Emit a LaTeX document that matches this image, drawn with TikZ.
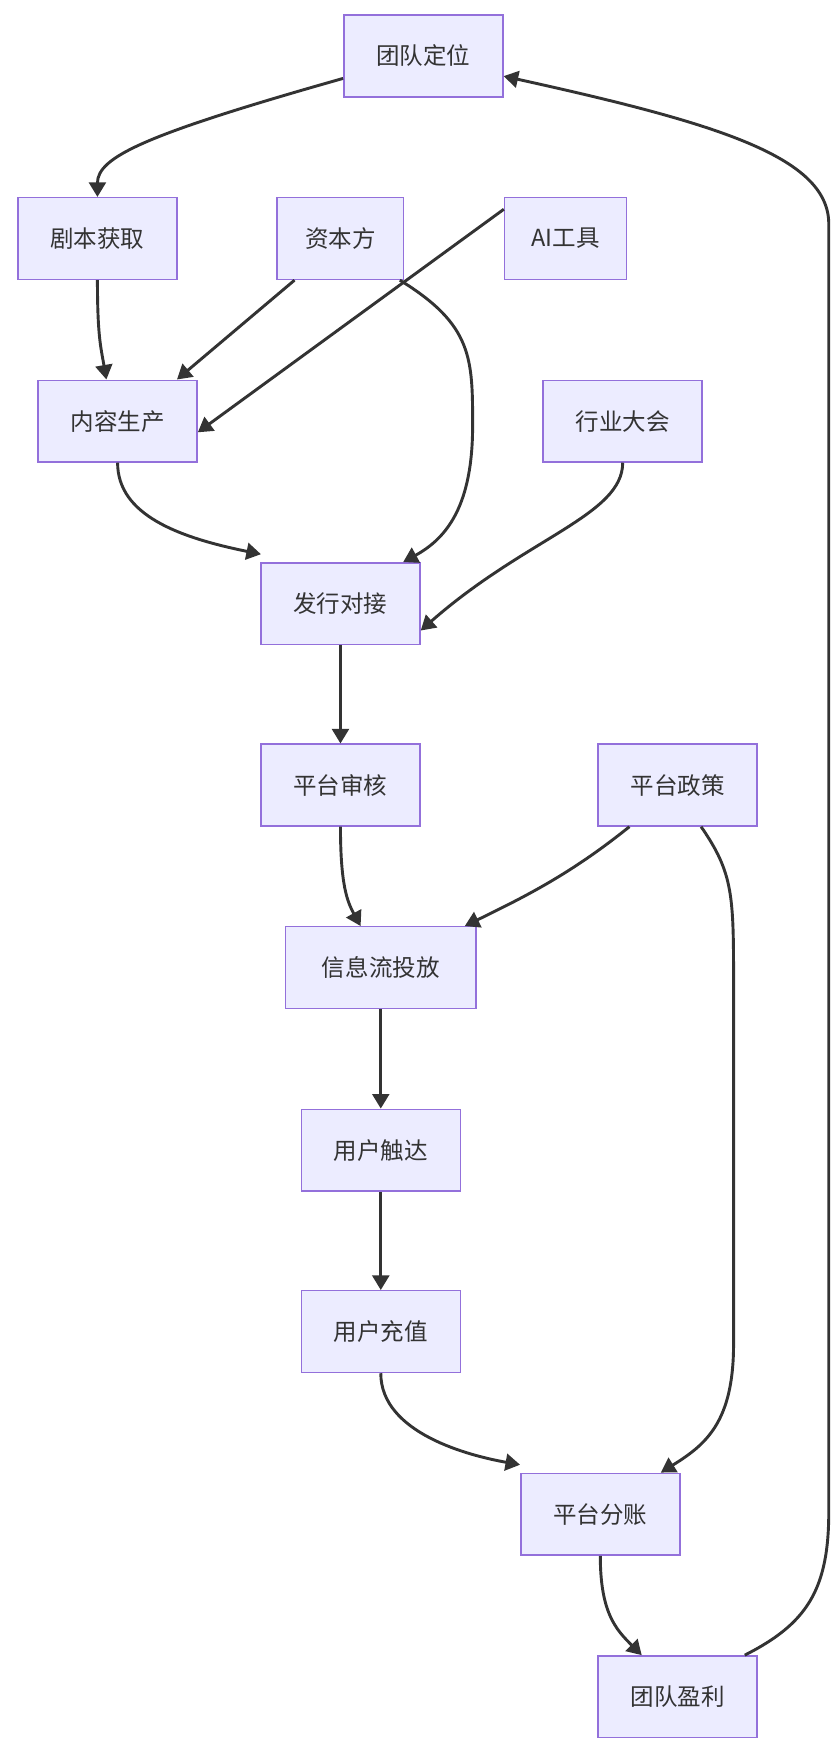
\documentclass[tikz,border=0pt]{standalone}
\usepackage{fontspec}
\setmainfont{Noto Sans CJK SC}
\usetikzlibrary{arrows.meta}
\definecolor{nf}{HTML}{ECECFF}
\definecolor{ns}{HTML}{9370DB}
\definecolor{ec}{HTML}{333333}
\begin{document}
\begin{tikzpicture}[x=1pt,y=-1pt,
 box/.style={draw=ns,fill=nf,line width=1.3pt,minimum height=73pt,inner xsep=14pt,font=\fontsize{21}{24}\selectfont,text=ec},
 e/.style={draw=ec,line width=2.6pt,-{Triangle[length=13pt,width=15pt]}}]
\useasboundingbox (0,0) rectangle (750,1559);
\node[box,minimum width=142pt] (dw) at (378,50) {团队定位};
\node[box,minimum width=142pt] (jb) at (87,213) {剧本获取};
\node[box,minimum width=113pt] (zb) at (304,213) {资本方};
\node[box,minimum width=109pt] (ai) at (505,213) {AI工具};
\node[box,minimum width=142pt] (nr) at (105,376) {内容生产};
\node[box,minimum width=142pt] (hy) at (556,376) {行业大会};
\node[box,minimum width=142pt] (fx) at (304,539) {发行对接};
\node[box,minimum width=142pt] (sh) at (304,701) {平台审核};
\node[box,minimum width=142pt] (zc) at (605,701) {平台政策};
\node[box,minimum width=170pt] (xx) at (340,864) {信息流投放};
\node[box,minimum width=142pt] (yd) at (340,1027) {用户触达};
\node[box,minimum width=142pt] (yc) at (340,1189) {用户充值};
\node[box,minimum width=142pt] (fz) at (536,1352) {平台分账};
\node[box,minimum width=142pt] (yl) at (605,1515) {团队盈利};
\coordinate (c1) at (740,180);
\draw[e] ([yshift=-20pt]dw.west) .. controls (130,120) and (87,140) .. (jb.north);
\draw[e] (jb.south) .. controls (87,300) and (90,310) .. ([xshift=-10pt]nr.north);
\draw[e] ([xshift=-41pt]zb.south) -- ([xshift=53pt]nr.north);
\draw[e] ([yshift=-11pt]ai.north west) -- ([yshift=-10pt]nr.east);
\draw[e] ([xshift=53pt]zb.south) .. controls (422,290) and (422,320) .. (422,380) .. controls (422,450) and (400,480) .. ([xshift=56pt]fx.north);
\draw[e] (nr.south) .. controls (105,460) and (160,480) .. ([xshift=-71pt,yshift=7pt]fx.north);
\draw[e] (hy.south) .. controls (556,460) and (470,480) .. ([yshift=-24pt]fx.east);
\draw[e] (fx.south) -- (sh.north);
\draw[e] (sh.south) .. controls (304,790) and (310,805) .. ([xshift=-18pt]xx.north);
\draw[e] ([xshift=-43pt]zc.south) .. controls (510,780) and (470,800) .. ([xshift=75pt]xx.north);
\draw[e] ([xshift=21pt]zc.south) .. controls (655,780) and (655,800) .. (655,880) -- (655,1200) .. controls (655,1270) and (630,1290) .. ([xshift=54pt]fz.north);
\draw[e] (yd.north|-xx.south) -- (yd.north);
\draw[e] (yd.south) -- (yc.north);
\draw[e] (yc.south) .. controls (340,1280) and (420,1300) .. ([yshift=7pt]fz.north west);
\draw[e] (fz.south) .. controls (536,1440) and (550,1455) .. ([xshift=-32pt]yl.north);
\draw[e] ([xshift=60pt]yl.north) .. controls (720,1450) and (740,1420) .. (740,1350) -- (740,200) .. controls (740,140) and (640,110) .. ([yshift=-18pt]dw.east);
\end{tikzpicture}
\end{document}
